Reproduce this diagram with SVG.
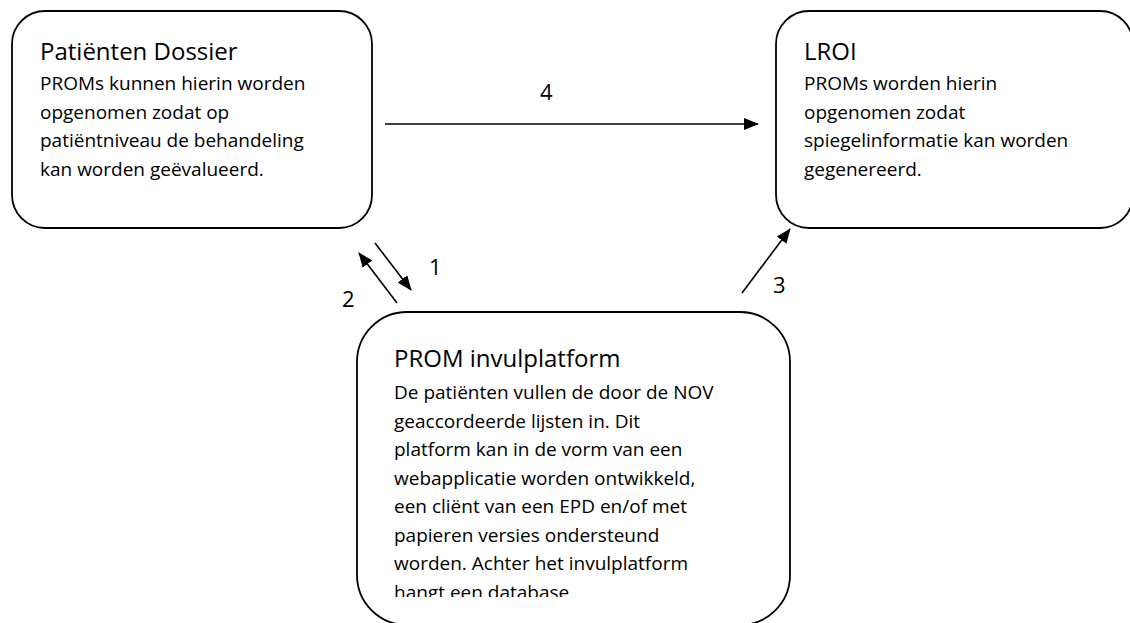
<svg xmlns="http://www.w3.org/2000/svg" width="1130" height="623" viewBox="0 0 1130 623">
<style>
.box{fill:#fff;stroke:#000;stroke-width:1.8}
.t{font-family:"Open Sans","Liberation Sans",sans-serif;fill:#000}
.title{font-size:24px}
.body{font-size:19px}
.lbl{font-family:"Open Sans","Liberation Sans",sans-serif;font-size:22px;fill:#000}
.con{stroke:#000;stroke-width:1.6;fill:none;marker-end:url(#ah)}
</style>
<defs>
<marker id="ah" markerWidth="15" markerHeight="12" refX="14" refY="6" orient="auto" markerUnits="userSpaceOnUse">
<path d="M0,0 L15,6 L0,12 Z" fill="#000"/>
</marker>
<clipPath id="clip3"><rect x="350" y="300" width="450" height="297"/></clipPath>
</defs>
<rect width="1130" height="623" fill="#fff"/>
<g id="node-dossier">
<rect class="box" x="12" y="11" width="360" height="217" rx="33" ry="33"/>
<text class="t title" x="40" y="60">Patiënten Dossier</text>
<text class="t body" x="40" y="90">PROMs kunnen hierin worden</text>
<text class="t body" x="40" y="118.5">opgenomen zodat op</text>
<text class="t body" x="40" y="147">patiëntniveau de behandeling</text>
<text class="t body" x="40" y="175.5">kan worden geëvalueerd.</text>
</g>
<g id="node-lroi">
<rect class="box" x="776" y="11" width="357" height="217" rx="33" ry="33"/>
<text class="t title" x="804" y="60">LROI</text>
<text class="t body" x="804" y="90">PROMs worden hierin</text>
<text class="t body" x="804" y="118.5">opgenomen zodat</text>
<text class="t body" x="804" y="147">spiegelinformatie kan worden</text>
<text class="t body" x="804" y="175.5">gegenereerd.</text>
</g>
<g id="node-platform">
<rect class="box" x="357" y="312" width="433" height="313" rx="50" ry="50"/>
<text class="t title" x="394" y="367">PROM invulplatform</text>
<g clip-path="url(#clip3)">
<text class="t body" x="394" y="399">De patiënten vullen de door de NOV</text>
<text class="t body" x="394" y="427.5">geaccordeerde lijsten in. Dit</text>
<text class="t body" x="394" y="456">platform kan in de vorm van een</text>
<text class="t body" x="394" y="484.5">webapplicatie worden ontwikkeld,</text>
<text class="t body" x="394" y="513">een cliënt van een EPD en/of met</text>
<text class="t body" x="394" y="541.5">papieren versies ondersteund</text>
<text class="t body" x="394" y="570">worden. Achter het invulplatform</text>
<text class="t body" x="394" y="598.5">hangt een database.</text>
</g>
</g>
<g id="connectors">
<line class="con" x1="385" y1="124" x2="758" y2="124"/>
<line class="con" x1="375" y1="243" x2="411" y2="290"/>
<line class="con" x1="397" y1="303" x2="359" y2="253"/>
<line class="con" x1="742" y1="293" x2="790" y2="229"/>
<text class="lbl" x="540" y="100">4</text>
<text class="lbl" x="429" y="275">1</text>
<text class="lbl" x="342" y="307">2</text>
<text class="lbl" x="773" y="293">3</text>
</g>
</svg>
